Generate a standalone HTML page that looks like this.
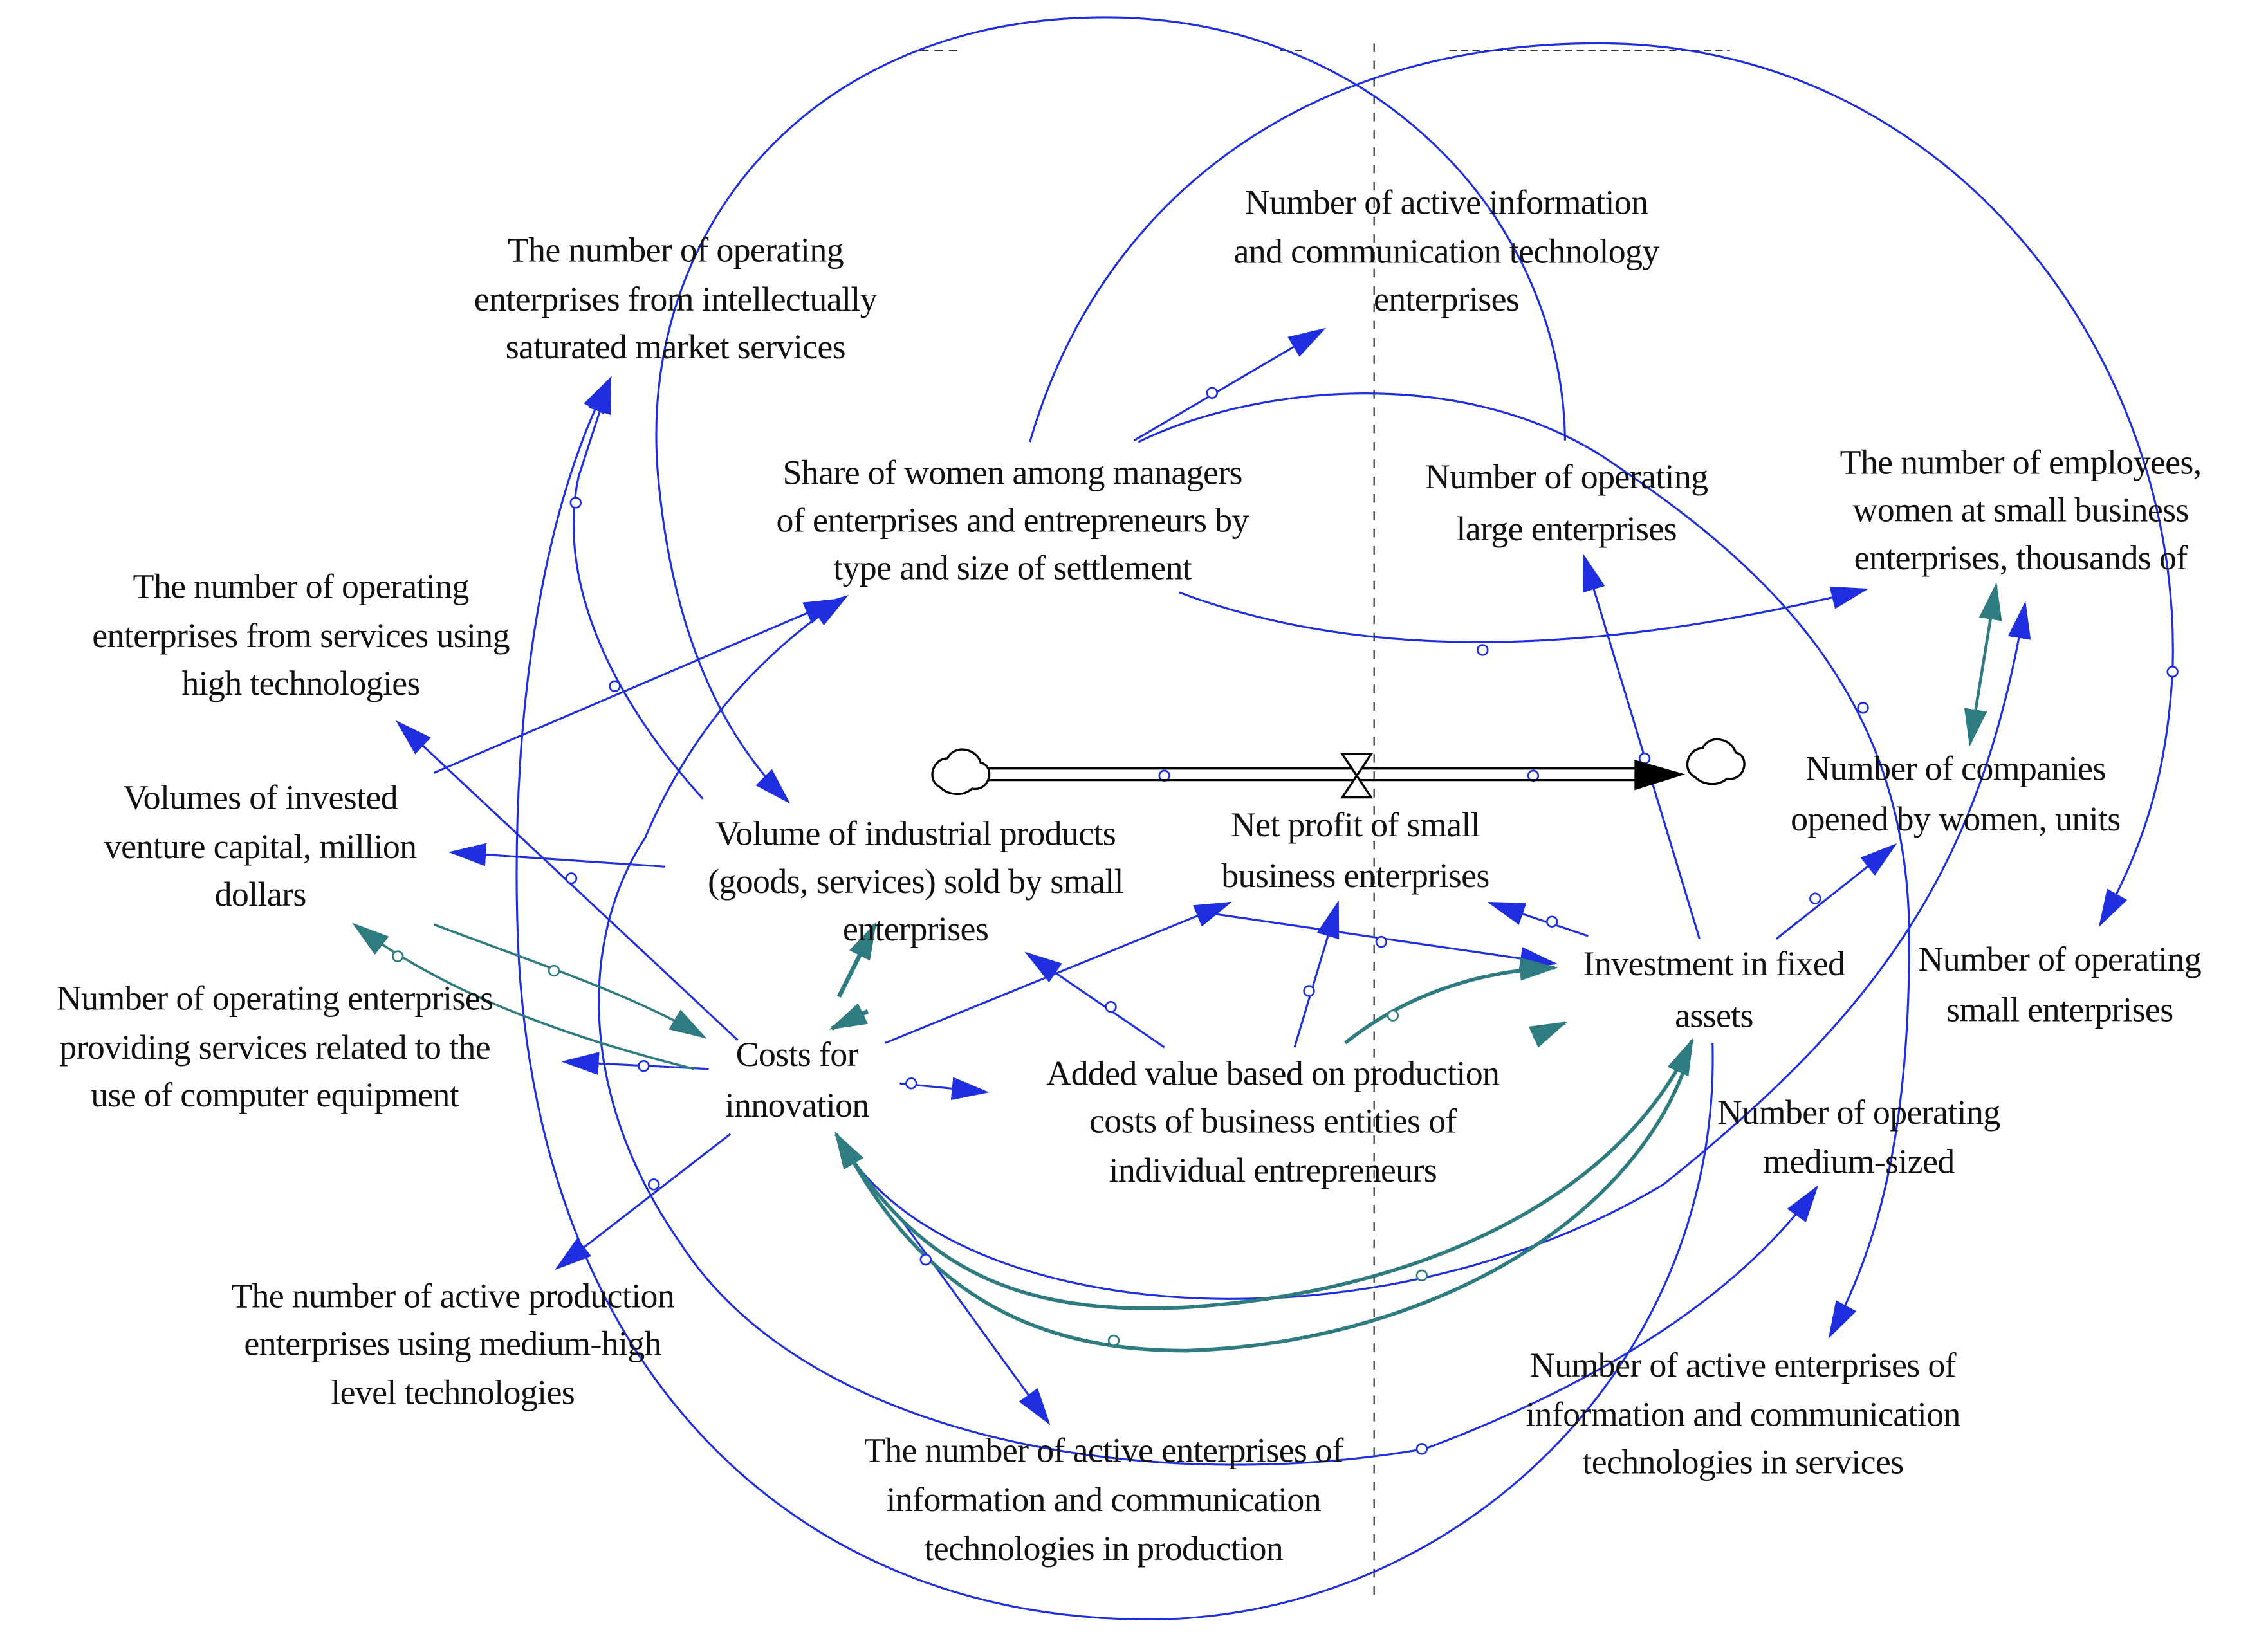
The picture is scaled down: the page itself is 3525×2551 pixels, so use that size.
<!DOCTYPE html>
<html><head><meta charset="utf-8"><style>
html,body{margin:0;padding:0;background:#fff}
svg{display:block}
text{font-family:"Liberation Serif",serif;font-size:24px;fill:#111;text-anchor:middle;letter-spacing:-0.3px}
</style></head><body>
<svg width="3525" height="2551" viewBox="0 0 1568 1136" preserveAspectRatio="none" xmlns="http://www.w3.org/2000/svg">
<defs>
<marker id="b" markerWidth="26" markerHeight="16" refX="24" refY="8" orient="auto" markerUnits="userSpaceOnUse"><path d="M0,0 L26,8 L0,16 z" fill="#1f2fe0"/></marker>
<marker id="t" markerWidth="26" markerHeight="16" refX="24" refY="8" orient="auto" markerUnits="userSpaceOnUse"><path d="M0,0 L26,8 L0,16 z" fill="#2e7b80"/></marker>
<marker id="ts" markerWidth="26" markerHeight="16" refX="2" refY="8" orient="auto" markerUnits="userSpaceOnUse"><path d="M26,0 L0,8 L26,16 z" fill="#2e7b80"/></marker>
</defs>
<rect width="1568" height="1136" fill="#fff"/>
<line x1="950" y1="30" x2="950" y2="1110" stroke="#333" stroke-width="1" stroke-dasharray="6,6"/>
<line x1="636" y1="35" x2="664" y2="35" stroke="#333" stroke-dasharray="6,4"/>
<line x1="885" y1="35" x2="900" y2="35" stroke="#333" stroke-dasharray="6,4"/>
<line x1="1002" y1="35" x2="1196" y2="35" stroke="#333" stroke-dasharray="5,3"/>
<g fill="none" stroke="#1f2fe0" stroke-width="1.4">
<path d="M1082,305 C1080,150 950,12 764,12 C560,12 440,160 455,330 C465,440 500,510 545,555" marker-end="url(#b)"/>
<path d="M712,306 C760,140 900,30 1105,30 C1350,30 1510,250 1502,465 C1498,540 1480,590 1452,640" marker-end="url(#b)"/>
<path d="M787,306 C860,270 1000,250 1105,314 C1220,390 1320,480 1320,650 C1320,780 1300,860 1265,925" marker-end="url(#b)"/>
<path d="M1184,722 C1190,950 1000,1125 787,1121 C550,1118 370,950 358,650 C352,480 380,340 422,262" marker-end="url(#b)"/>
<path d="M985,1003 C800,1035 560,1000 470,860 C400,760 400,650 446,580 C480,500 530,450 585,413" marker-end="url(#b)"/>
<path d="M985,1003 C1100,960 1200,900 1256,822" marker-end="url(#b)"/>
<path d="M578,785 C650,920 950,940 1150,820 C1300,700 1370,600 1400,418" marker-end="url(#b)"/>
<path d="M486,553 C420,480 385,400 400,330 L422,262" marker-end="url(#b)"/>
<path d="M784,305 L915,228" marker-end="url(#b)"/>
<path d="M815,410 Q1000,480 1290,408" marker-end="url(#b)"/>
<path d="M300,535 L580,415" marker-end="url(#b)"/>
<path d="M460,600 L312,590" marker-end="url(#b)"/>
<path d="M510,720 L275,500" marker-end="url(#b)"/>
<path d="M490,740 L390,735" marker-end="url(#b)"/>
<path d="M505,785 L385,878" marker-end="url(#b)"/>
<path d="M612,722 L850,625" marker-end="url(#b)"/>
<path d="M805,725 L710,660" marker-end="url(#b)"/>
<path d="M622,750 L682,756" marker-end="url(#b)"/>
<path d="M895,725 L925,625" marker-end="url(#b)"/>
<path d="M1098,648 L1030,625" marker-end="url(#b)"/>
<path d="M835,632 L1075,667" marker-end="url(#b)"/>
<path d="M1175,650 L1095,385" marker-end="url(#b)"/>
<path d="M1228,650 L1310,585" marker-end="url(#b)"/>
<path d="M620,840 L725,985" marker-end="url(#b)"/>
</g>
<g fill="none" stroke="#2e7b80" stroke-width="1.6">
<path d="M480,740 C400,720 310,690 245,640" marker-end="url(#t)"/>
<path d="M300,640 C380,670 440,690 487,718" marker-end="url(#t)"/>
<path d="M600,700 L575,712" stroke-width="3" marker-end="url(#t)"/>
<path d="M580,690 L605,640" stroke-width="3" marker-end="url(#t)"/>
<path d="M930,722 C970,690 1020,672 1075,670" stroke-width="2.5" marker-end="url(#t)"/>
<path d="M1060,718 L1082,708" stroke-width="2.5" marker-end="url(#t)"/>
<path d="M1362,515 L1380,405" stroke-width="2" marker-start="url(#ts)" marker-end="url(#t)"/>
<path d="M578,785 C640,890 720,910 820,905 C980,895 1120,830 1170,720" stroke-width="2.5" marker-start="url(#ts)" marker-end="url(#t)"/>
<path d="M582,790 C640,900 720,935 820,935 C980,930 1130,850 1168,730" stroke-width="2.5"/>
</g>
<g fill="#fff" stroke="#1f2fe0" stroke-width="1.2">
<circle cx="838" cy="272" r="3.5"/><circle cx="1025" cy="450" r="3.5"/><circle cx="398" cy="348" r="3.5"/>
<circle cx="395" cy="608" r="3.5"/><circle cx="445" cy="738" r="3.5"/><circle cx="452" cy="820" r="3.5"/>
<circle cx="768" cy="697" r="3.5"/><circle cx="905" cy="686" r="3.5"/><circle cx="1073" cy="638" r="3.5"/>
<circle cx="955" cy="652" r="3.5"/><circle cx="1255" cy="622" r="3.5"/><circle cx="640" cy="872" r="3.5"/>
<circle cx="983" cy="1003" r="3.5"/><circle cx="425" cy="475" r="3.5"/><circle cx="1288" cy="490" r="3.5"/>
<circle cx="1502" cy="465" r="3.5"/><circle cx="630" cy="750" r="3.5"/><circle cx="805" cy="537" r="3.5"/><circle cx="1060" cy="537" r="3.5"/>
<circle cx="1137" cy="525" r="3.5"/>
<circle cx="275" cy="662" r="3.5" stroke="#2e7b80"/><circle cx="383" cy="672" r="3.5" stroke="#2e7b80"/>
<circle cx="963" cy="703" r="3.5" stroke="#2e7b80"/><circle cx="983" cy="883" r="3.5" stroke="#2e7b80"/><circle cx="770" cy="928" r="3.5" stroke="#2e7b80"/>
</g>
<line x1="680" y1="532" x2="1140" y2="532" stroke="#000" stroke-width="1.5"/>
<line x1="680" y1="540" x2="1140" y2="540" stroke="#000" stroke-width="1.5"/>
<path d="M1130,526 L1165,536 L1130,547 z" fill="#000"/>
<path d="M928,522 L948,522 L928,552 L948,552 z" fill="#fff" stroke="#000" stroke-width="1.5"/>
<path d="M650,545 C640,540 645,525 655,525 C660,515 675,518 678,528 C688,530 685,548 672,546 C665,552 655,550 650,545 z" fill="#fff" stroke="#000" stroke-width="1.5"/>
<path d="M1172,538 C1162,533 1167,518 1177,518 C1182,508 1197,511 1200,521 C1210,523 1207,541 1194,539 C1187,545 1177,543 1172,538 z" fill="#fff" stroke="#000" stroke-width="1.5"/>
<text x="467" y="181">The number of operating</text><text x="467" y="215">enterprises from intellectually</text><text x="467" y="248">saturated market services</text>
<text x="1000" y="148">Number of active information</text><text x="1000" y="182">and communication technology</text><text x="1000" y="215">enterprises</text>
<text x="700" y="335">Share of women among managers</text><text x="700" y="368">of enterprises and entrepreneurs by</text><text x="700" y="401">type and size of settlement</text>
<text x="1083" y="338">Number of operating</text><text x="1083" y="374">large enterprises</text>
<text x="1397" y="328">The number of employees,</text><text x="1397" y="361">women at small business</text><text x="1397" y="394">enterprises, thousands of</text>
<text x="208" y="414">The number of operating</text><text x="208" y="448">enterprises from services using</text><text x="208" y="481">high technologies</text>
<text x="180" y="560">Volumes of invested</text><text x="180" y="594">venture capital, million</text><text x="180" y="627">dollars</text>
<text x="633" y="585">Volume of industrial products</text><text x="633" y="618">(goods, services) sold by small</text><text x="633" y="651">enterprises</text>
<text x="937" y="579">Net profit of small</text><text x="937" y="614">business enterprises</text>
<text x="1352" y="540">Number of companies</text><text x="1352" y="575">opened by women, units</text>
<text x="1185" y="675">Investment in fixed</text><text x="1185" y="711">assets</text>
<text x="1424" y="672">Number of operating</text><text x="1424" y="707">small enterprises</text>
<text x="190" y="699">Number of operating enterprises</text><text x="190" y="733">providing services related to the</text><text x="190" y="766">use of computer equipment</text>
<text x="551" y="738">Costs for</text><text x="551" y="773">innovation</text>
<text x="880" y="751">Added value based on production</text><text x="880" y="784">costs of business entities of</text><text x="880" y="818">individual entrepreneurs</text>
<text x="1285" y="778">Number of operating</text><text x="1285" y="812">medium-sized</text>
<text x="313" y="905">The number of active production</text><text x="313" y="938">enterprises using medium-high</text><text x="313" y="972">level technologies</text>
<text x="1205" y="953">Number of active enterprises of</text><text x="1205" y="987">information and communication</text><text x="1205" y="1020">technologies in services</text>
<text x="763" y="1012">The number of active enterprises of</text><text x="763" y="1046">information and communication</text><text x="763" y="1080">technologies in production</text>
</svg>
</body></html>
